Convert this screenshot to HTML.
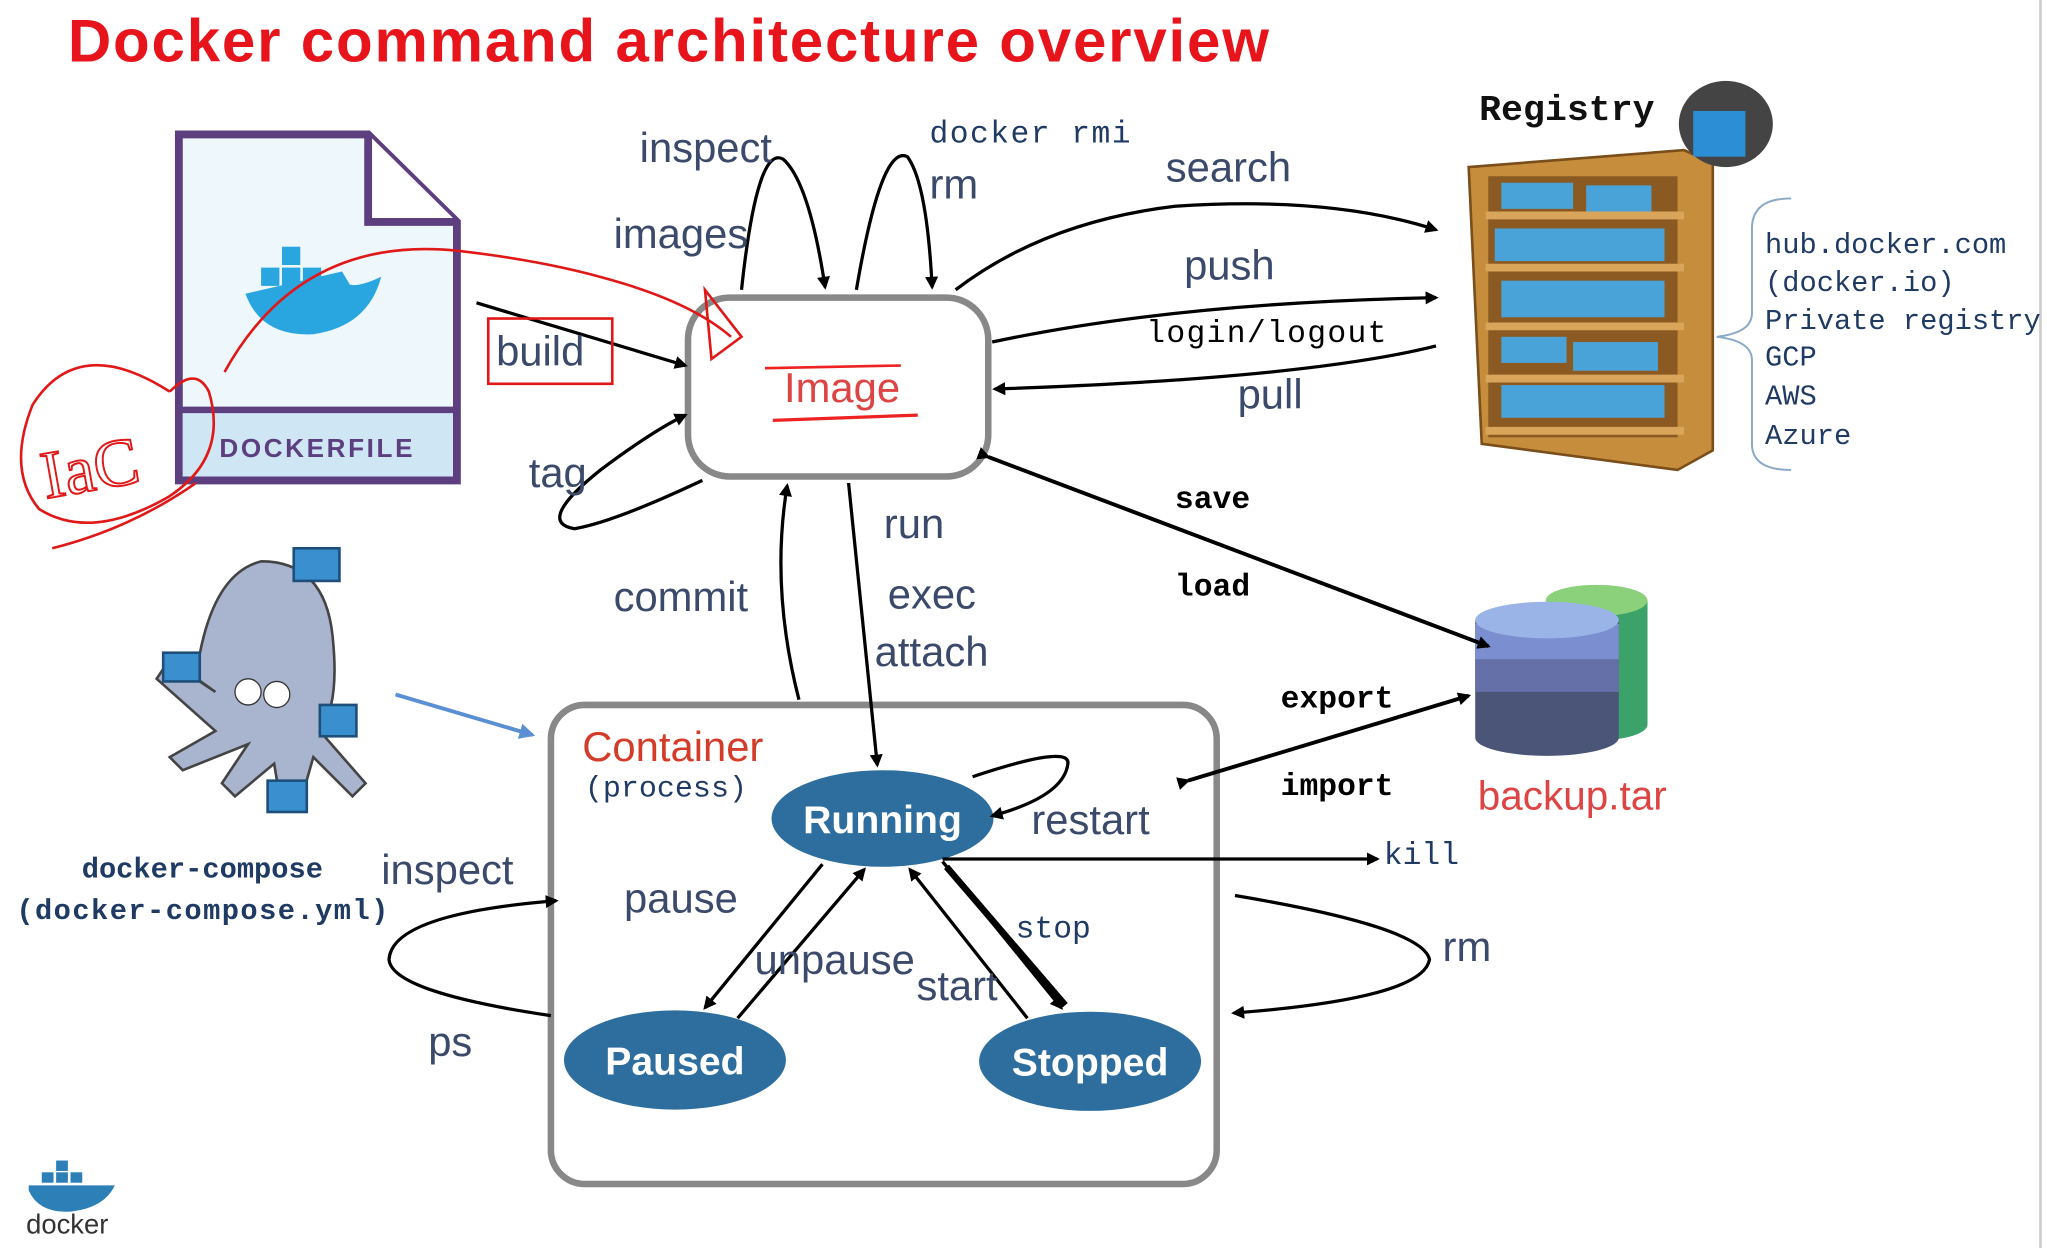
<!DOCTYPE html>
<html><head><meta charset="utf-8"><style>html,body{margin:0;padding:0;background:#fff;overflow:hidden}svg{display:block}</style></head>
<body>
<svg width="2047" height="1248" viewBox="0 0 1568 956" preserveAspectRatio="none" xmlns="http://www.w3.org/2000/svg">
<defs>
<marker id="a" markerWidth="10" markerHeight="10" refX="8" refY="5" orient="auto" markerUnits="userSpaceOnUse"><path d="M0,0 L10,5 L0,10 z" fill="#000"/></marker>
<marker id="b" markerWidth="12" markerHeight="12" refX="10" refY="6" orient="auto" markerUnits="userSpaceOnUse"><path d="M0,0 L12,6 L0,12 z" fill="#5b8fd4"/></marker>
</defs>
<rect width="1568" height="956" fill="#fff"/>
<line x1="1563" y1="0" x2="1563" y2="956" stroke="#ccc" stroke-width="2"/>
<text x="52" y="47" font-family="Liberation Sans, sans-serif" font-weight="bold" font-size="46" fill="#e8141b" textLength="920">Docker command architecture overview</text>

<!-- Dockerfile -->
<path d="M137,103 L282,103 L350,170 L350,368 L137,368 Z" fill="#eef7fc" stroke="#5d3f80" stroke-width="6"/>
<path d="M282,103 L282,170 L350,170" fill="#fff" stroke="#5d3f80" stroke-width="6"/>
<rect x="140" y="314" width="207" height="51" fill="#cfe6f4"/>
<line x1="137" y1="314" x2="350" y2="314" stroke="#5d3f80" stroke-width="5"/>
<text x="243" y="350" text-anchor="middle" font-family="Liberation Sans, sans-serif" font-weight="bold" font-size="20" fill="#5d3f80" letter-spacing="2">DOCKERFILE</text>
<path d="M188,225 Q200,258 240,256 Q282,250 292,212 Q275,220 268,218 L262,208 L188,225 Z" fill="#29a5e0"/>
<rect x="200" y="205" width="14" height="14" fill="#29a5e0"/><rect x="216" y="205" width="14" height="14" fill="#29a5e0"/><rect x="216" y="189" width="14" height="14" fill="#29a5e0"/><rect x="232" y="205" width="14" height="14" fill="#29a5e0"/>

<!-- Image box -->
<rect x="527" y="228" width="230" height="137" rx="32" fill="#fff" stroke="#888" stroke-width="5"/>
<text x="645" y="308" text-anchor="middle" font-family="Liberation Sans, sans-serif" font-size="32" fill="#d44">Image</text>
<path d="M586,282 L690,280" stroke="#e22" stroke-width="2" fill="none"/>
<path d="M592,322 L703,318" stroke="#e22" stroke-width="2.5" fill="none"/>

<!-- Container box -->
<rect x="422" y="540" width="510" height="367" rx="26" fill="#fff" stroke="#888" stroke-width="5"/>
<text x="446" y="583" font-family="Liberation Sans, sans-serif" font-size="32" fill="#d43c2a">Container</text>
<text x="448" y="610" font-family="Liberation Mono, monospace" font-size="23" fill="#1f3a63">(process)</text>

<ellipse cx="676" cy="627" rx="85" ry="37" fill="#2d6e9f"/>
<text x="676" y="638" text-anchor="middle" font-family="Liberation Sans, sans-serif" font-weight="bold" font-size="30" fill="#fff">Running</text>
<ellipse cx="517" cy="812" rx="85" ry="38" fill="#2d6e9f"/>
<text x="517" y="823" text-anchor="middle" font-family="Liberation Sans, sans-serif" font-weight="bold" font-size="30" fill="#fff">Paused</text>
<ellipse cx="835" cy="813" rx="85" ry="38" fill="#2d6e9f"/>
<text x="835" y="824" text-anchor="middle" font-family="Liberation Sans, sans-serif" font-weight="bold" font-size="30" fill="#fff">Stopped</text>

<!-- Registry shelf -->
<g>
<path d="M1125,128 L1290,115 L1312,125 L1312,345 L1285,360 L1135,340 Z" fill="#c58d3c" stroke="#7a4e1a" stroke-width="2"/>
<rect x="1140" y="135" width="145" height="200" fill="#8a5a22"/>
<g fill="#4aa3d8">
<rect x="1150" y="140" width="55" height="20"/><rect x="1215" y="142" width="50" height="20"/>
<rect x="1145" y="175" width="130" height="25"/>
<rect x="1150" y="215" width="125" height="28"/>
<rect x="1150" y="258" width="50" height="20"/><rect x="1205" y="262" width="65" height="22"/>
<rect x="1150" y="295" width="125" height="25"/>
</g>
<g stroke="#d9a55a" stroke-width="6"><line x1="1138" y1="165" x2="1290" y2="165"/><line x1="1138" y1="205" x2="1290" y2="205"/><line x1="1138" y1="250" x2="1290" y2="250"/><line x1="1138" y1="290" x2="1290" y2="290"/><line x1="1138" y1="330" x2="1290" y2="330"/></g>
<ellipse cx="1322" cy="95" rx="36" ry="33" fill="#444"/>
<rect x="1297" y="85" width="40" height="35" fill="#2c8fd6"/>
</g>
<text x="1133" y="92" font-family="Liberation Mono, monospace" font-weight="bold" font-size="28" fill="#111">Registry</text>
<path d="M1372,152 Q1342,152 1342,175 L1342,240 Q1342,255 1315,258 Q1342,261 1342,276 L1342,340 Q1342,360 1372,360" fill="none" stroke="#8aa8c8" stroke-width="1.5"/>
<g font-family="Liberation Mono, monospace" font-size="22" fill="#1f3a63">
<text x="1352" y="194">hub.docker.com</text><text x="1352" y="223">(docker.io)</text><text x="1352" y="252">Private registry</text><text x="1352" y="280">GCP</text><text x="1352" y="310">AWS</text><text x="1352" y="340">Azure</text>
</g>

<!-- backup.tar -->
<path d="M1185,460 L1185,555 A38,12 0 0 0 1262,555 L1262,460 Z" fill="#3ba36a"/>
<ellipse cx="1223" cy="460" rx="39" ry="12" fill="#8bd07a"/>
<path d="M1130,475 L1130,565 A55,14 0 0 0 1240,565 L1240,475 Z" fill="#4a5578"/>
<rect x="1130" y="505" width="110" height="25" fill="#6670a8"/>
<rect x="1130" y="478" width="110" height="27" fill="#7b8fd0"/>
<ellipse cx="1185" cy="475" rx="55" ry="14" fill="#9ab4e8"/>
<text x="1132" y="620" font-family="Liberation Sans, sans-serif" font-size="31" fill="#d44">backup.tar</text>

<!-- octopus -->
<g fill="#a9b5cf" stroke="#444" stroke-width="2">
<path d="M150,520 Q160,440 200,430 Q250,430 255,490 Q260,540 245,560 L280,600 L270,610 L240,580 L230,615 L215,615 L210,585 L180,610 L170,600 L190,570 L140,590 L130,580 L165,560 L120,520 L130,505 L165,530 Z"/>
</g>
<circle cx="190" cy="530" r="10" fill="#fff" stroke="#333"/><circle cx="212" cy="532" r="10" fill="#fff" stroke="#333"/>
<g fill="#3a90cf" stroke="#1e4f7a" stroke-width="2"><rect x="225" y="420" width="35" height="25"/><rect x="125" y="500" width="28" height="22"/><rect x="245" y="540" width="28" height="24"/><rect x="205" y="598" width="30" height="24"/></g>
<text x="155" y="672" text-anchor="middle" font-family="Liberation Mono, monospace" font-weight="bold" font-size="22" fill="#1f3a63">docker-compose</text>
<text x="155" y="704" text-anchor="middle" font-family="Liberation Mono, monospace" font-weight="bold" font-size="22" fill="#1f3a63" textLength="285">(docker-compose.yml)</text>
<line x1="303" y1="532" x2="408" y2="563" stroke="#5b8fd4" stroke-width="3" marker-end="url(#b)"/>

<!-- docker logo -->
<path d="M22,912 Q30,930 55,928 Q80,925 88,908 L22,908 Z" fill="#2d7fb8"/>
<g fill="#2d7fb8"><rect x="32" y="898" width="9" height="8"/><rect x="43" y="898" width="9" height="8"/><rect x="54" y="898" width="9" height="8"/><rect x="43" y="889" width="9" height="8"/></g>
<text x="20" y="945" font-family="Liberation Sans, sans-serif" font-size="21" fill="#333">docker</text>

<!-- arrows -->
<g fill="none" stroke="#000" stroke-width="2.5" marker-end="url(#a)">
<path d="M568,222 Q580,110 600,122 Q620,140 632,220"/>
<path d="M656,222 Q675,110 695,120 Q710,140 714,220"/>
<path d="M732,222 Q800,170 900,158 Q1020,150 1100,176"/>
<path d="M760,262 Q900,232 1100,228"/>
<path d="M1100,265 Q1000,290 762,298"/>
<path d="M365,232 L525,280"/>
<path d="M538,368 Q470,400 440,405 Q410,400 460,360 Q500,330 525,318"/>
<path d="M650,370 L672,586"/>
<path d="M612,536 Q590,450 603,372"/>
<path d="M745,595 Q820,570 818,585 Q815,610 760,625"/>
<path d="M722,658 L1055,658"/>
<path d="M630,662 L540,772"/>
<path d="M565,780 L662,666"/>
<path d="M787,780 L697,666"/>
<path d="M722,660 L813,772"/>
<path d="M946,686 Q1090,710 1095,735 Q1090,765 945,776"/>
<path d="M422,778 Q300,760 298,735 Q300,700 426,690"/>
</g>
<path d="M725,664 L816,770" stroke="#000" stroke-width="5" fill="none"/>
<g stroke="#000" stroke-width="3" fill="none">
<line x1="757" y1="350" x2="1140" y2="495" marker-start="url(#a)" marker-end="url(#a)"/>
<line x1="910" y1="598" x2="1125" y2="533" marker-start="url(#a)" marker-end="url(#a)"/>
</g>

<!-- labels -->
<g font-family="Liberation Sans, sans-serif" font-size="32" fill="#3b4a6b">
<text x="490" y="124">inspect</text><text x="470" y="190">images</text><text x="712" y="152">rm</text>
<text x="893" y="139">search</text><text x="907" y="214">push</text><text x="948" y="313">pull</text>
<text x="380" y="280">build</text><text x="405" y="373">tag</text>
<text x="677" y="412">run</text><text x="680" y="466">exec</text><text x="670" y="510">attach</text>
<text x="470" y="468">commit</text><text x="790" y="639">restart</text><text x="478" y="699">pause</text>
<text x="578" y="746">unpause</text><text x="702" y="766">start</text><text x="1105" y="736">rm</text>
<text x="292" y="677">inspect</text><text x="328" y="809">ps</text>
</g>
<g font-family="Liberation Mono, monospace" font-size="24" fill="#1f3a63">
<text x="712" y="109" textLength="154">docker rmi</text><text x="1060" y="662">kill</text><text x="778" y="718">stop</text>
</g>
<g font-family="Liberation Mono, monospace" font-size="24" fill="#000">
<text x="878" y="262" textLength="184">login/logout</text>
<text x="900" y="389" font-weight="bold">save</text><text x="900" y="456" font-weight="bold">load</text>
<text x="981" y="542" font-weight="bold">export</text><text x="981" y="609" font-weight="bold">import</text>
</g>

<!-- red annotations -->
<g fill="none" stroke="#e01818" stroke-width="2">
<rect x="374" y="244" width="95" height="50"/>
<path d="M172,285 Q230,180 350,192 Q420,200 470,215 Q530,232 560,258"/>
<path d="M540,222 L545,275 L568,258 Z"/>
<path d="M130,300 Q60,255 25,310 Q5,360 30,390 Q70,415 130,380 Q175,350 160,300 Q150,280 130,300"/>
<path d="M40,420 Q100,405 150,370"/>
<text x="35" y="382" font-family="Liberation Serif, serif" font-size="52" fill="none" stroke="#e01818" stroke-width="1.5" transform="rotate(-10 35 382)">IaC</text>
</g>
</svg>
</body></html>
